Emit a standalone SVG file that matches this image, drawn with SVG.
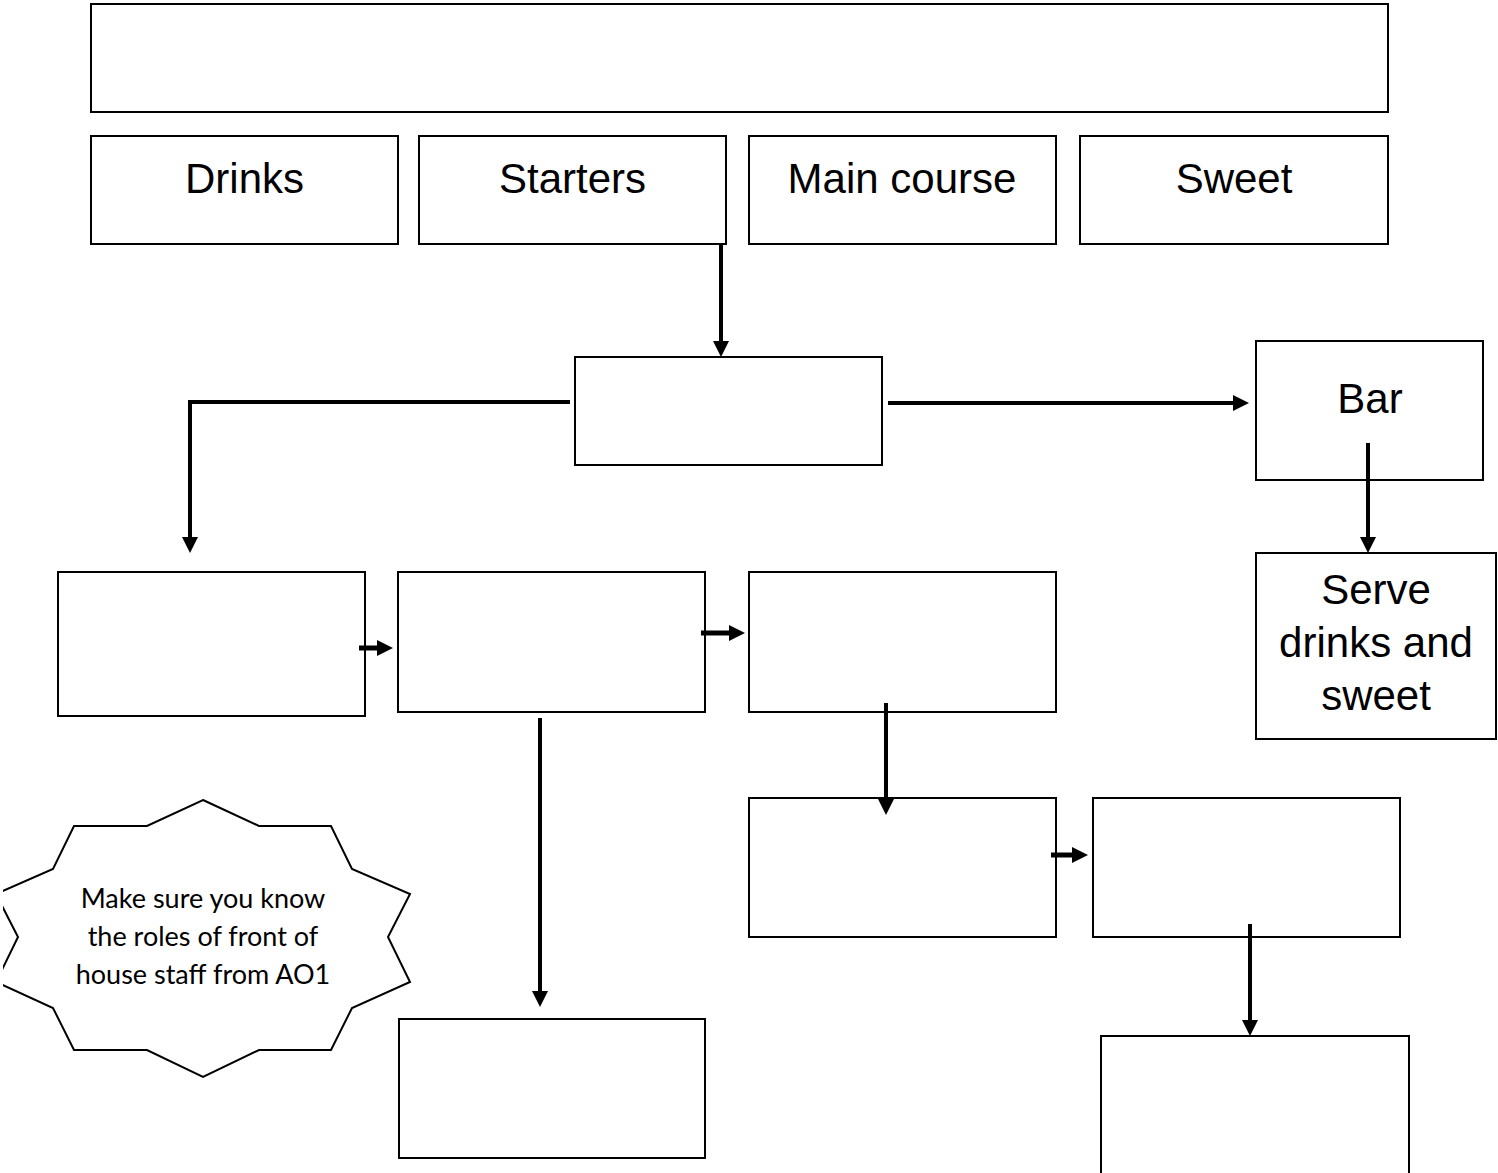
<svg xmlns="http://www.w3.org/2000/svg" width="1498" height="1173" viewBox="0 0 1498 1173">
  <style>
    .box { fill: #fff; stroke: #000; stroke-width: 2; }
    .lbl { font-family: "Liberation Sans", Arial, sans-serif; font-size: 42px; fill: #000; text-anchor: middle; }
    .note { font-family: Lato, "Open Sans", sans-serif; font-size: 27px; fill: #000; text-anchor: middle; }
    .wire { fill: none; stroke: #000; stroke-width: 4; }
    .wire.short { stroke-width: 5; }
  </style>
  <defs>
    <marker id="head" markerUnits="userSpaceOnUse" markerWidth="16" markerHeight="16" refX="0" refY="8" orient="auto" overflow="visible">
      <path d="M0,0 L16,8 L0,16 z" fill="#000"/>
    </marker>
    <clipPath id="pageEdge"><rect x="3" y="0" width="1495" height="1173"/></clipPath>
  </defs>

  <rect width="1498" height="1173" fill="#fff"/>

  <!-- title bar -->
  <g id="title"><rect class="box" x="91" y="4" width="1297" height="108"/></g>

  <!-- course headings -->
  <g id="drinks"><rect class="box" x="91" y="136" width="307" height="108"/><text class="lbl" x="244.5" y="193">Drinks</text></g>
  <g id="starters"><rect class="box" x="419" y="136" width="307" height="108"/><text class="lbl" x="572.5" y="193">Starters</text></g>
  <g id="main-course"><rect class="box" x="749" y="136" width="307" height="108"/><text class="lbl" x="902" y="193">Main course</text></g>
  <g id="sweet"><rect class="box" x="1080" y="136" width="308" height="108"/><text class="lbl" x="1234" y="193">Sweet</text></g>

  <!-- central step -->
  <g id="centre"><rect class="box" x="575" y="357" width="307" height="108"/></g>

  <!-- bar branch -->
  <g id="bar"><rect class="box" x="1256" y="341" width="227" height="139"/><text class="lbl" x="1370" y="413">Bar</text></g>
  <g id="serve"><rect class="box" x="1256" y="553" width="240" height="186"/>
    <text class="lbl" x="1376" y="604">Serve</text>
    <text class="lbl" x="1376" y="657">drinks and</text>
    <text class="lbl" x="1376" y="710">sweet</text>
  </g>

  <!-- process steps -->
  <g id="step-a"><rect class="box" x="58" y="572" width="307" height="144"/></g>
  <g id="step-b"><rect class="box" x="398" y="572" width="307" height="140"/></g>
  <g id="step-c"><rect class="box" x="749" y="572" width="307" height="140"/></g>
  <g id="step-d"><rect class="box" x="399" y="1019" width="306" height="139"/></g>
  <g id="step-e"><rect class="box" x="749" y="798" width="307" height="139"/></g>
  <g id="step-f"><rect class="box" x="1093" y="798" width="307" height="139"/></g>
  <g id="step-g"><path class="box" d="M1101,1180 V1036 H1409 V1180"/></g>

  <!-- reminder burst -->
  <g id="reminder" clip-path="url(#pageEdge)">
    <polygon class="box" points="203,800 259,826 331,826 352,869 410,894 388,937 410,982 352,1008 331,1050 259,1050 203,1077 147,1050 74,1050 53,1008 -4,982 18,937 -4,894 53,869 74,826 147,826"/>
    <text class="note" x="203" y="908">Make sure you know</text>
    <text class="note" x="203" y="946">the roles of front of</text>
    <text class="note" x="203" y="984">house staff from AO1</text>
  </g>

  <!-- connectors -->
  <g id="connectors">
    <path class="wire" d="M721,244 V341" marker-end="url(#head)"/>
    <path class="wire" d="M570,402 H190 V537" marker-end="url(#head)"/>
    <path class="wire" d="M888,403 H1233" marker-end="url(#head)"/>
    <path class="wire" d="M1368,443 V537" marker-end="url(#head)"/>
    <path class="wire short" d="M359,648 H377" marker-end="url(#head)"/>
    <path class="wire short" d="M701,633 H729" marker-end="url(#head)"/>
    <path class="wire" d="M540,718 V991" marker-end="url(#head)"/>
    <path class="wire" d="M886,703 V799" marker-end="url(#head)"/>
    <path class="wire short" d="M1051,855 H1072" marker-end="url(#head)"/>
    <path class="wire" d="M1250,924 V1020" marker-end="url(#head)"/>
  </g>
</svg>
